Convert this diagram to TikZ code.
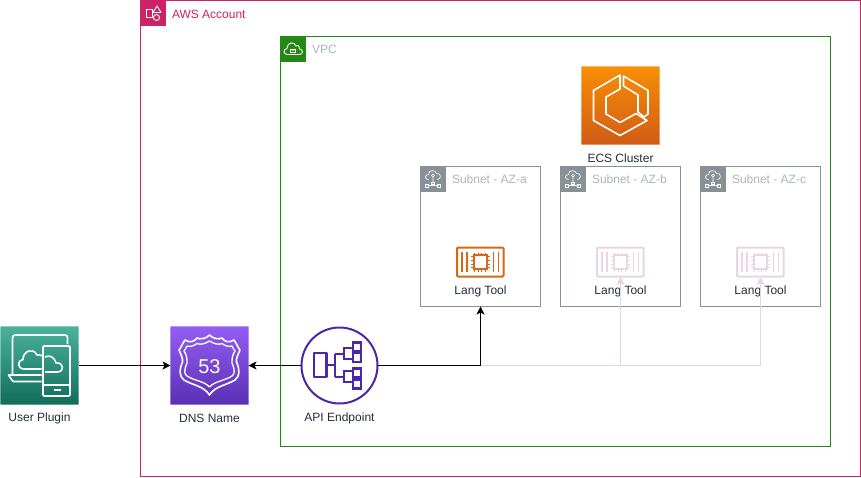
\documentclass[tikz,border=0pt]{standalone}
\usepackage{fontspec}
\setmainfont{Liberation Sans}
\usetikzlibrary{arrows.meta}
\definecolor{acctc}{HTML}{CD2264}
\definecolor{vpcg}{HTML}{248814}
\definecolor{subg}{HTML}{879196}
\definecolor{soft}{HTML}{AAB7B8}
\definecolor{ink}{HTML}{232F3E}
\definecolor{lt}{HTML}{D86613}
\definecolor{palelt}{HTML}{EAD5E2}
\definecolor{paleln}{HTML}{E1D5E7}
\definecolor{apiv}{HTML}{4D27AA}
\definecolor{ecstop}{HTML}{F78E04}
\definecolor{ecsbot}{HTML}{D05C17}
\definecolor{usertop}{HTML}{4AB29A}
\definecolor{userbot}{HTML}{116D5B}
\definecolor{dnstop}{HTML}{945DF2}
\definecolor{dnsbot}{HTML}{5A30B5}
\tikzset{
  x=1pt,y=-1pt,
  every node/.style={outer sep=0pt},
  lbl/.style={font=\fontsize{12}{14}\selectfont,text=ink,inner sep=0pt,anchor=center},
  grouplbl/.style={font=\fontsize{12}{14}\selectfont,inner sep=0pt,anchor=west},
  groupbox/.style={inner sep=0pt,anchor=north west},
  conn/.style={-{Stealth[length=8pt,width=8pt,inset=2pt]},black,line width=1pt},
  paleconn/.style={-{Stealth[length=8pt,width=8pt,inset=2pt]},paleln,line width=1pt},
  glyph/.style={draw=white,line width=1.6pt,line join=round,fill=none},
  thinglyph/.style={draw=white,line width=1.3pt,line join=round,fill=none},
  iconbox/.style={minimum width=78pt,minimum height=78pt,inner sep=0pt,anchor=north west},
  iconedge/.style={draw=white,draw opacity=.35,line width=1pt},
  tool/.style={minimum width=48pt,minimum height=30pt,inner sep=0pt,anchor=north west},
}
\newcommand{\subnetgroup}[3]{%
  \node[groupbox,minimum width=120pt,minimum height=140pt] (#2) at (#1,166.5) {};
  \draw[subg,line width=1pt] (#2.north west) rectangle (#2.south east);
  \fill[subg] (#1,166.5) rectangle ++(25,25);
  \begin{scope}[shift={(#1,166.5)}]
    \draw[white,line width=.7pt,line join=round] (8,13) .. controls (4,13) and (4,8) .. (8,8) .. controls (8,3) and (15,3) .. (16,7) .. controls (21,6) and (21,13) .. (17,13);
    \draw[white,line width=.7pt] (12.5,9) circle (1.5pt) (12.5,10.5) -- (12.5,17) (7,19) -- (18,19) ;
    \draw[white,line width=.7pt] (5,17.5) rectangle (8,20.5) (11,15.5) rectangle (14,18) (17,17.5) rectangle (20,20.5);
  \end{scope}
  \node[grouplbl,text=soft] at (#1+31.5,179) {#3};
}
\newcommand{\toolglyph}[2]{%
  \begin{scope}[shift={(#1,247)}]
    \draw[#2,line width=2pt,rounded corners=1pt] (.5,.5) rectangle (47,29.5);
    \draw[#2,line width=1.7pt] (5.5,5) -- (5.5,25) (10.5,5) -- (10.5,25) (37,5) -- (37,25) (42,5) -- (42,25);
    \draw[#2,line width=2pt] (17,8) rectangle (30.5,22);
    \foreach \t in {18,21.5,25,28.5}{\draw[#2,line width=1pt] (\t,5.5) -- (\t,8) (\t,22) -- (\t,24.5);}
    \foreach \t in {9.5,13.5,17,20.5}{\draw[#2,line width=1pt] (14.5,\t) -- (17,\t) (30.5,\t) -- (33,\t);}
  \end{scope}
}
\begin{document}
\begin{tikzpicture}
\useasboundingbox (0,0) rectangle (861,477);
\fill[white] (0,0) rectangle (861,477);

% AWS account group
\node[groupbox,minimum width=720pt,minimum height=476pt] (acct) at (140.5,.5) {};
\draw[acctc,line width=1pt] (acct.north west) rectangle (acct.south east);
\fill[acctc] (140.5,.5) rectangle ++(25,25);
\begin{scope}[shift={(140.5,.5)}]
  \draw[white,line width=.9pt] (5.5,9) rectangle (12,16.5);
  \draw[white,line width=.9pt,line join=round] (16.5,5.5) -- (20.5,12) -- (12.5,12) -- cycle;
  \draw[white,line width=.9pt] (16,17) circle (3pt);
\end{scope}
\node[grouplbl,text=acctc] (acctlbl) at (172,14) {AWS Account};

% VPC group
\node[groupbox,minimum width=550pt,minimum height=410pt] (vpc) at (280.5,36.5) {};
\draw[vpcg,line width=1pt] (vpc.north west) rectangle (vpc.south east);
\fill[vpcg] (280.5,36.5) rectangle ++(25,25);
\begin{scope}[shift={(280.5,36.5)}]
  \draw[white,line width=.9pt,line join=round] (7,18) .. controls (2.5,18) and (2.5,12.5) .. (6.5,12) .. controls (6.5,5.5) and (14,4.5) .. (15.5,9.5) .. controls (18,8) and (19.5,10.5) .. (19,12.5) .. controls (23,13) and (23,18) .. (18.5,18) -- cycle;
  \draw[white,line width=.8pt] (10,12.5) rectangle (15,16);
  \draw[white,line width=.7pt] (11,12.5) arc (180:0:1.5);
\end{scope}
\node[grouplbl,text=soft] (vpclbl) at (312,49) {VPC};

% Subnets
\subnetgroup{420.5}{suba}{Subnet - AZ-a}
\subnetgroup{560.5}{subb}{Subnet - AZ-b}
\subnetgroup{700.5}{subc}{Subnet - AZ-c}

% ECS
\node[iconbox,draw=none,shade,top color=ecstop,bottom color=ecsbot] (ecs) at (581.5,66.5) {};
\draw[iconedge] (ecs.north west) rectangle (ecs.south east);
\begin{scope}[shift={(570,60)}]
  \draw[glyph] (50,15) -- (23.5,30.5) -- (23.5,60.5) -- (50,75.5) -- (77,60.5) -- (66,53.5) -- (50,62.5) -- (36,54) -- (36,37) -- (50,29) -- cycle;
  \draw[glyph] (53.5,16) -- (53.5,26) -- (68,35) -- (68,52) -- (74,57) -- (78,54) -- (78,30.5) -- cycle;
\end{scope}
\node[lbl] (ecslbl) at (620.5,158) {ECS Cluster};

% Lang tools
\node[tool] (lta) at (456.5,247) {};
\node[tool] (ltb) at (596.5,247) {};
\node[tool] (ltc) at (736.5,247) {};
\toolglyph{456.5}{lt}
\toolglyph{596.5}{palelt}
\toolglyph{736.5}{palelt}
\node[lbl] (ltal) at (480.5,291) {Lang Tool};
\node[lbl] (ltbl) at (620.5,291) {Lang Tool};
\node[lbl] (ltcl) at (760.5,291) {Lang Tool};

% User plugin
\node[iconbox,draw=none,shade,top color=usertop,bottom color=userbot] (user) at (.5,326.5) {};
\draw[iconedge] (user.north west) rectangle (user.south east);
\begin{scope}[shift={(0,310)}]
  \draw[glyph] (12.5,64) -- (12.5,28) .. controls (12.5,26) and (13.5,25) .. (15.5,25) -- (65,25) .. controls (67,25) and (67.5,26) .. (67.5,28) -- (67.5,34);
  \draw[glyph] (41.5,65) -- (8.5,65) -- (13,71.5) -- (41.5,71.5);
  \draw[glyph,rounded corners=1pt] (43,36) rectangle (70,86);
  \draw[glyph] (43,75) -- (70,75);
  \draw[glyph] (53.5,80) -- (60.5,80);
  \draw[glyph] (41.5,59) -- (24,59) .. controls (17,59) and (17,50) .. (23,49.5) .. controls (23,41) and (33,37) .. (37,45) .. controls (39,44) and (41,45) .. (41.5,46);
  \draw[glyph] (45,62) -- (57,62) .. controls (65,62) and (64,52) .. (56,53) .. controls (54,46) and (49,45) .. (45,47);
\end{scope}
\node[lbl] (userlbl) at (39.5,418) {User Plugin};

% DNS
\node[iconbox,draw=none,shade,top color=dnstop,bottom color=dnsbot] (dns) at (170.5,326.5) {};
\draw[iconedge] (dns.north west) rectangle (dns.south east);
\begin{scope}[shift={(170,310)}]
  \draw[glyph] (39.5,25) .. controls (36,29) and (30,29.5) .. (27,28) .. controls (24,32) and (20,33) .. (15,30) .. controls (12,34) and (11,38) .. (9,40) .. controls (11,45) and (13,48) .. (12.5,52) .. controls (9,60) and (9,66) .. (14,70) .. controls (22,75) and (34,76) .. (39.5,85) .. controls (45,76) and (57,75) .. (65,70) .. controls (70,66) and (70,60) .. (66.5,52) .. controls (66,48) and (68,45) .. (70,40) .. controls (68,38) and (67,34) .. (64,30) .. controls (59,33) and (55,32) .. (52,28) .. controls (49,29.5) and (43,29) .. (39.5,25) -- cycle;
  \draw[thinglyph] (39.5,31) .. controls (35,34) and (30,35) .. (27,33.5) .. controls (24,36) and (20,37) .. (17,36) .. controls (16,38) and (15,40) .. (14,41) .. controls (17,46) and (17.5,49) .. (17,53) .. controls (14,60) and (14,64) .. (17,66) .. controls (25,71) and (34,71) .. (39.5,77) .. controls (45,71) and (54,71) .. (62,66) .. controls (65,64) and (65,60) .. (62,53) .. controls (61.5,49) and (62,46) .. (65,41) .. controls (64,40) and (63,38) .. (62,36) .. controls (59,37) and (55,36) .. (52,33.5) .. controls (49,35) and (44,34) .. (39.5,31) -- cycle;
  \node[font=\fontsize{20}{22}\selectfont,text=white,inner sep=0pt] (dnsnum) at (39.5,56.5) {53};
\end{scope}
\node[lbl] (dnslbl) at (209.5,418) {DNS Name};

% API endpoint
\node[circle,minimum size=77pt,inner sep=0pt] (api) at (339.5,365.5) {};
\draw[apiv,line width=2pt] (api.center) circle (38pt);
\begin{scope}[shift={(290,320)}]
  \draw[apiv,line width=2.2pt,line join=round]
    (24,33) rectangle (36.5,57)
    (36.5,45) -- (45,45)
    (45,34) -- (45,57)
    (45,34) -- (54,34)
    (45,57) -- (54,57);
  \foreach \yy in {27,37.5,53,64}{
    \draw[apiv,line width=2.2pt] (63,\yy-4.5) rectangle (71,\yy+4.5);
  }
  \draw[apiv,line width=2.2pt] (54,28) rectangle (63,39) (54,51) rectangle (63,62);
\end{scope}
\node[lbl] (apilbl) at (339.5,418) {API Endpoint};

% Connectors
\draw[paleconn] (api.east) -| (ltb.south);
\draw[paleconn] (api.east) -| (ltc.south);
\draw[conn] (user.east) -- (dns.west);
\draw[conn] (api.west) -- (dns.east);
\draw[conn] (api.east) -| (suba.south);
\end{tikzpicture}
\end{document}
